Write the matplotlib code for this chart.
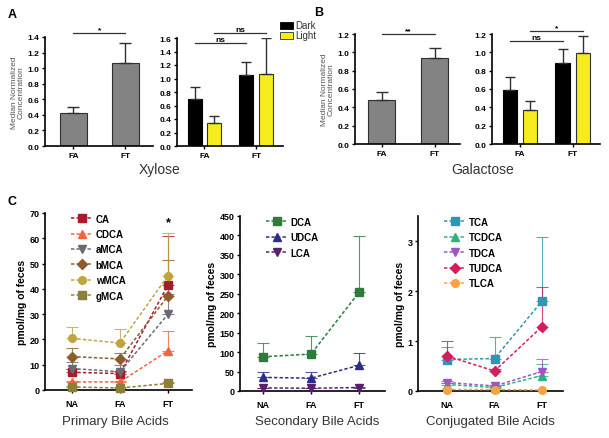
import matplotlib
matplotlib.use('Agg')
import matplotlib.pyplot as plt
from matplotlib.patches import Rectangle
import numpy as np

plt.rcParams['font.family'] = ['Liberation Sans', 'DejaVu Sans']

# ---- data: panels A and B (median normalized concentration) ----
groups = ['FA', 'FT']
xyl_all = [0.42, 1.06]
xyl_all_err = [0.08, 0.26]
xyl_dark = [0.69, 1.05]
xyl_dark_err = [0.18, 0.19]
xyl_light = [0.34, 1.07]
xyl_light_err = [0.11, 0.53]

gal_all = [0.48, 0.94]
gal_all_err = [0.09, 0.11]
gal_dark = [0.59, 0.88]
gal_dark_err = [0.14, 0.16]
gal_light = [0.37, 0.99]
gal_light_err = [0.10, 0.19]

# ---- data: panel C (pmol/mg of feces) ----
diets = ['NA', 'FA', 'FT']
primary = {
    'CA':   ([7.0, 6.5, 41.5], [1.5, 1.0, 19.5]),
    'CDCA': ([3.2, 3.2, 15.5], [0.5, 0.5, 8.0]),
    'aMCA': ([8.5, 7.2, 30.0], [2.7, 2.8, 8.0]),
    'bMCA': ([13.2, 12.3, 37.2], [3.4, 2.5, 14.3]),
    'wMCA': ([20.4, 18.6, 45.2], [4.6, 5.6, 16.8]),
    'gMCA': ([1.2, 0.8, 2.6], [0.3, 0.3, 0.5]),
}
secondary = {
    'DCA':  ([88, 95, 254], [35, 47, 144]),
    'UDCA': ([35, 33, 66], [15, 17, 31]),
    'LCA':  ([8, 7, 9], [1, 1, 1]),
}
conjugated = {
    'TCA':   ([0.63, 0.65, 1.80], [0.26, 0.44, 1.29]),
    'TCDCA': ([0.13, 0.07, 0.31], [0.03, 0.02, 0.24]),
    'TDCA':  ([0.17, 0.10, 0.39], [0.03, 0.02, 0.25]),
    'TUDCA': ([0.70, 0.40, 1.29], [0.31, 0.05, 0.79]),
    'TLCA':  ([0.03, 0.03, 0.02], [0.01, 0.01, 0.01]),
}

primary_style = {
    'CA': ('#a51d2d', 's'), 'CDCA': ('#f2643a', '^'), 'aMCA': ('#6a6a72', 'v'),
    'bMCA': ('#8e5b2c', 'D'), 'wMCA': ('#c0a43c', 'o'), 'gMCA': ('#8c7f3a', 's'),
}
secondary_style = {'DCA': ('#2e7b3c', 's'), 'UDCA': ('#2c2c8a', '^'), 'LCA': ('#5c1f6c', 'v')}
conjugated_style = {
    'TCA': ('#2e97b3', 's'), 'TCDCA': ('#2db37c', '^'), 'TDCA': ('#9a58c4', 'v'),
    'TUDCA': ('#d41c5e', 'D'), 'TLCA': ('#f5a242', 'o'),
}

W, H = 609, 439
fig = plt.figure(figsize=(W / 100, H / 100), dpi=100)


def add_ax(left, top, right, bottom):
    # pixel box -> figure fraction
    return fig.add_axes([left / W, 1 - bottom / H, (right - left) / W, (bottom - top) / H])


def style_ax(ax, tick_size=6):
    for s in ['top', 'right']:
        ax.spines[s].set_visible(False)
    ax.spines['left'].set_linewidth(1.2)
    ax.spines['bottom'].set_linewidth(1.2)
    ax.tick_params(length=2.5, width=1, labelsize=tick_size, pad=1.5)
    for lab in ax.get_yticklabels():
        lab.set_fontweight('bold')


def sig_line(ax, x0, x1, y, text, color='#333333'):
    ax.plot([x0, x1], [y, y], color=color, lw=0.9, clip_on=False)
    ax.text((x0 + x1) / 2, y, text, ha='center', va='bottom', fontsize=6, fontweight='bold', clip_on=False)


def bar_single(ax, vals, errs, ymax, yticks):
    x = np.arange(len(vals))
    ax.bar(x, vals, width=0.52, color='#838383', edgecolor='#303030', linewidth=0.8, zorder=2)
    ax.errorbar(x, vals, yerr=[np.zeros(len(errs)), errs], fmt='none', ecolor='#303030',
                elinewidth=1, capsize=4, capthick=1, zorder=3)
    ax.set_ylim(0, ymax)
    ax.set_yticks(yticks)
    ax.set_yticklabels(['%.1f' % t for t in yticks])
    ax.set_xticks(x)
    ax.set_xticklabels(groups, fontsize=6.5, fontweight='bold')
    ax.set_ylabel('Median Normalized\nConcentration', fontsize=6, color='#555555', labelpad=2, linespacing=1.0)
    style_ax(ax)


def bar_pair(ax, dark, dark_err, light, light_err, ymax, yticks):
    x = np.arange(len(dark))
    off, w = 0.19, 0.27
    ax.bar(x - off, dark, width=w, color='black', edgecolor='black', linewidth=0.8, zorder=2, label='Dark')
    ax.bar(x + off, light, width=w, color='#f4ec1c', edgecolor='#303030', linewidth=0.8, zorder=2, label='Light')
    ax.errorbar(x - off, dark, yerr=[np.zeros(len(dark)), dark_err], fmt='none', ecolor='#303030',
                elinewidth=1, capsize=3.5, capthick=1, zorder=3)
    ax.errorbar(x + off, light, yerr=[np.zeros(len(light)), light_err], fmt='none', ecolor='#303030',
                elinewidth=1, capsize=3.5, capthick=1, zorder=3)
    ax.set_ylim(0, ymax)
    ax.set_yticks(yticks)
    ax.set_yticklabels(['%.1f' % t for t in yticks])
    ax.set_xticks(x)
    ax.set_xticklabels(groups, fontsize=6.5, fontweight='bold')
    style_ax(ax)
    return off


# Panel A - xylose
ax1 = add_ax(45, 38, 153, 147)
bar_single(ax1, xyl_all, xyl_all_err, 1.4, np.arange(0, 1.41, 0.2))
ax1.set_xlim(-0.55, 1.54)
sig_line(ax1, 0, 1, 1.45, '*')

ax2 = add_ax(177, 39, 283, 147)
off = bar_pair(ax2, xyl_dark, xyl_dark_err, xyl_light, xyl_light_err, 1.6, np.arange(0, 1.61, 0.2))
ax2.set_xlim(-0.53, 1.52)
sig_line(ax2, -off, 1 - off, 1.53, 'ns')
sig_line(ax2, off, 1 + off, 1.68, 'ns')

fig.text(160 / W, 1 - 170 / H, 'Xylose', fontsize=10, ha='center', va='center', color='#333333')
fig.text(8 / W, 1 - 15 / H, 'A', fontsize=9, fontweight='bold', va='center')

# legend boxes for Dark / Light
fig.patches.append(Rectangle((280 / W, 1 - 29.5 / H), 13 / W, 7 / H, transform=fig.transFigure,
                             facecolor='black', edgecolor='black', lw=0.6))
fig.patches.append(Rectangle((280 / W, 1 - 39.5 / H), 13 / W, 7 / H, transform=fig.transFigure,
                             facecolor='#f4ec1c', edgecolor='#303030', lw=0.6))
fig.text(295 / W, 1 - 26 / H, 'Dark', fontsize=7, va='center', color='#333333')
fig.text(295 / W, 1 - 36 / H, 'Light', fontsize=7, va='center', color='#333333')

# Panel B - galactose
ax3 = add_ax(355, 35, 460, 145)
bar_single(ax3, gal_all, gal_all_err, 1.2, np.arange(0, 1.21, 0.2))
ax3.set_xlim(-0.5, 1.48)
sig_line(ax3, 0, 1, 1.2, '**')

ax4 = add_ax(492, 35, 600, 145)
off = bar_pair(ax4, gal_dark, gal_dark_err, gal_light, gal_light_err, 1.2, np.arange(0, 1.21, 0.2))
ax4.set_xlim(-0.53, 1.52)
sig_line(ax4, -off, 1 - off, 1.12, 'ns')
sig_line(ax4, off, 1 + off, 1.23, '*')

fig.text(483 / W, 1 - 170 / H, 'Galactose', fontsize=10, ha='center', va='center', color='#333333')
fig.text(314 / W, 1 - 13 / H, 'B', fontsize=9, fontweight='bold', va='center')


# Panel C - bile acids
def line_panel(ax, data, styles, ymax, yticks, xlim, title, title_x):
    x = np.arange(len(diets))
    for name, (vals, errs) in data.items():
        color, marker = styles[name]
        ax.errorbar(x, vals, yerr=[np.zeros(len(errs)), errs], fmt='none', ecolor=color,
                    elinewidth=0.8, capsize=4, capthick=0.8, alpha=0.8, zorder=2)
        ax.plot(x, vals, ls=(0, (2.2, 1.4)), lw=1.1, color=color, marker=marker, markersize=5.5,
                markeredgecolor=color, label=name, zorder=3, clip_on=False)
    ax.set_ylim(0, ymax)
    ax.set_yticks(yticks)
    ax.set_xlim(*xlim)
    ax.set_xticks(x)
    ax.set_xticklabels(diets, fontsize=7.5, fontweight='bold')
    ax.set_ylabel('pmol/mg of feces', fontsize=7.5, fontweight='bold', labelpad=2)
    style_ax(ax, tick_size=6.5)
    ax.tick_params(axis='x', pad=4)
    leg = ax.legend(loc='upper left', bbox_to_anchor=(0.12, 1.045), frameon=False, handlelength=2.2,
                    handletextpad=0.3, labelspacing=0.55, prop={'size': 7, 'weight': 'bold'})
    for line in leg.get_lines():
        line.set_markersize(5.5)
    fig.text(title_x / W, 1 - 422 / H, title, fontsize=9.5, ha='center', va='center', color='#333333')
    return ax


ax5 = add_ax(45, 214, 192, 391)
line_panel(ax5, primary, primary_style, 70, np.arange(0, 71, 10), (-0.56, 2.5), 'Primary Bile Acids', 115)
ax5.text(2, 64, '*', ha='center', va='bottom', fontsize=9, fontweight='bold')

ax6 = add_ax(240, 217, 385, 392)
line_panel(ax6, secondary, secondary_style, 450, np.arange(0, 451, 50), (-0.48, 2.54), 'Secondary Bile Acids', 317)

ax7 = add_ax(418, 217, 563, 392)
line_panel(ax7, conjugated, conjugated_style, 3.5, [0, 1, 2, 3], (-0.61, 2.44), 'Conjugated Bile Acids', 490)

fig.text(8 / W, 1 - 202 / H, 'C', fontsize=9, fontweight='bold', va='center')

fig.savefig('out.png', dpi=100)
